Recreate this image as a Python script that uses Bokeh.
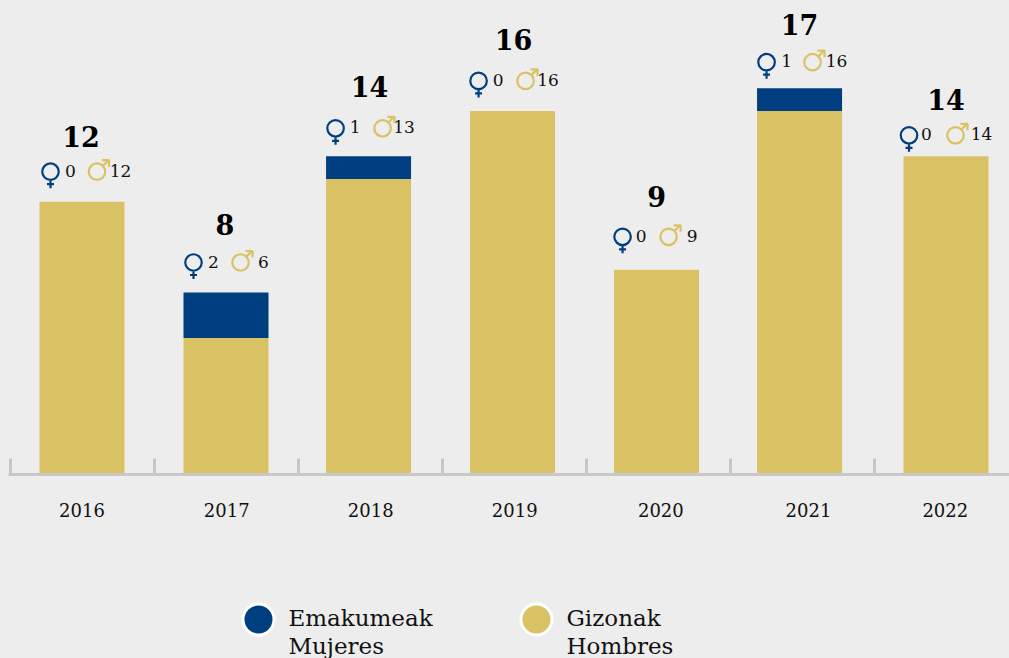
from bokeh.plotting import figure
from bokeh.embed import file_html
from bokeh.resources import INLINE
from bokeh.core.properties import value
from bokeh.models import ColumnDataSource, LinearAxis, FixedTicker, Range1d

years = ["2016", "2017", "2018", "2019", "2020", "2021", "2022"]
women = [0, 2, 1, 0, 0, 1, 0]
men = [12, 6, 13, 16, 9, 16, 14]
totals = [12, 8, 14, 16, 9, 17, 14]
series_names = [("Emakumeak", "Mujeres"), ("Gizonak", "Hombres")]

BLUE, GOLD, BG = "#003f7f", "#d9c263", "#ededed"
SERIF = "DejaVu Serif"
W, H = 1009, 658
STEP, X0, Y0, UNIT = 144.0, 81.5, 473.6, 22.7

# layout: slot positions and label nudges (pixels)
bar_pos = [0, 1, 1.99, 2.99, 3.99, 4.983, 6]
year_label_pos = [0.0, 1.005, 2.005, 3.005, 4.02, 5.045, 5.995]
total_dx = [-1, -1, 1, 1, 0, 0, 0]
total_gap = [65, 68, 69, 71, 73, 63, 56]
row_gap = [30, 30, 28, 30, 33, 26, 21]
female_dx = [-31.5, -32.5, -33, -34, -34, -33, -37]
f_count_dx = [-11.5, -12.5, -13.5, -14.5, -15.5, -13, -19.5]
male_dx = [15, 14.5, 14, 13, 12, 13, 9.5]
m_count_dx = [38.5, 37.5, 35.5, 35.5, 35.5, 37, 35.5]

def px_x(px):
    return (px - X0) / STEP

def px_y(py):
    return (Y0 - py) / UNIT

p = figure(width=W, height=H, output_backend="svg", toolbar_location=None,
           x_range=Range1d(px_x(0), px_x(W)), y_range=Range1d(px_y(H), px_y(0)),
           x_axis_location=None, y_axis_location=None,
           min_border=0, background_fill_color=BG, border_fill_color=BG,
           outline_line_color=None)
p.grid.visible = False

tops = [a + b for a, b in zip(men, women)]
src = ColumnDataSource(dict(
    x=bar_pos, men=men, women=women, total=totals, top=tops,
    t=[str(v) for v in totals], w=[str(v) for v in women], m=[str(v) for v in men],
    total_dx=total_dx, total_dy=[-g - 0.5 for g in total_gap],
    row_dy=[-g - 1 for g in row_gap],
    f_count_dx=f_count_dx, m_count_dx=m_count_dx,
))

p.vbar(x="x", bottom=0, top="men", width=85 / STEP, source=src, fill_color=GOLD, line_color=None)
p.vbar(x="x", bottom="men", top="top", width=85 / STEP, source=src, fill_color=BLUE, line_color=None)

# baseline: upward minor ticks between the years, year labels at the major positions
axis = LinearAxis(fixed_location=0,
                  ticker=FixedTicker(ticks=year_label_pos, minor_ticks=[i - 0.5 for i in range(8)]),
                  major_label_overrides={k: v for k, v in zip(year_label_pos, years)},
                  major_tick_line_color=None, major_tick_in=0, major_tick_out=0,
                  minor_tick_in=16, minor_tick_out=0,
                  minor_tick_line_color="#c8c8c8", minor_tick_line_width=3,
                  axis_line_color="#c8c8c8", axis_line_width=3,
                  bounds=(px_x(8), px_x(W)),
                  major_label_standoff=29,
                  major_label_text_font=SERIF, major_label_text_font_size="18px",
                  major_label_text_color="#111111", major_label_text_font_style="normal")
p.add_layout(axis, "below")

p.text(x="x", y="top", text="t", source=src, x_offset="total_dx", y_offset="total_dy",
       text_font=value(SERIF), text_font_style="bold", text_font_size="27px",
       text_color="#000000", text_align="center", text_baseline="middle")
p.text(x="x", y="top", text="w", source=src, x_offset="f_count_dx", y_offset="row_dy",
       text_font=value(SERIF), text_font_size="17px",
       text_color="#111111", text_align="center", text_baseline="middle")
p.text(x="x", y="top", text="m", source=src, x_offset="m_count_dx", y_offset="row_dy",
       text_font=value(SERIF), text_font_size="17px",
       text_color="#111111", text_align="center", text_baseline="middle")

# gender icons, built around each bar's top
def icon_lines(dxs, shapes):
    xs, ys = [], []
    for pos, top, dx, gap in zip(bar_pos, tops, dxs, row_gap):
        cx = X0 + pos * STEP + dx
        cy = Y0 - top * UNIT - gap
        for shape in shapes:
            xs.append([px_x(cx + a) for a, _ in shape])
            ys.append([px_y(cy + b) for _, b in shape])
    return xs, ys

def icon_rings(dxs):
    return ([p_ + d / STEP for p_, d in zip(bar_pos, dxs)],
            [t + g / UNIT for t, g in zip(tops, row_gap)])

fx, fy = icon_rings(female_dx)
mx, my = icon_rings(male_dx)
p.scatter(fx, fy, marker="circle", size=16.5, fill_color=None, line_color=BLUE, line_width=2.2)
p.scatter(mx, my, marker="circle", size=16.5, fill_color=None, line_color=GOLD, line_width=2.2)
xs, ys = icon_lines(female_dx, [[(0, 9), (0, 16.5)], [(-3.5, 12.5), (3.5, 12.5)]])
p.multi_line(xs, ys, line_color=BLUE, line_width=2.2)
xs, ys = icon_lines(male_dx, [[(6, -6), (11.5, -11.5)], [(5, -11.5), (12, -11.5), (12, -5)]])
p.multi_line(xs, ys, line_color=GOLD, line_width=2.2)

# legend
for cx, tx, color, names in zip((258, 536), (288, 566), (BLUE, GOLD), series_names):
    p.scatter([px_x(cx)], [px_y(619)], size=31, marker="circle", fill_color=color,
              line_color="#ffffff", line_width=3)
    p.text([px_x(tx)] * 2, [px_y(617.5), px_y(645.5)], text=list(names),
           text_font=value(SERIF), text_font_size="23px", text_color="#111111",
           text_align="left", text_baseline="middle")

html = file_html(p, INLINE)
html = html.replace("<head>", "<head><style>html,body{margin:0;padding:0;background:%s;overflow:hidden}</style>" % BG, 1)
open("out.html", "w").write(html)
